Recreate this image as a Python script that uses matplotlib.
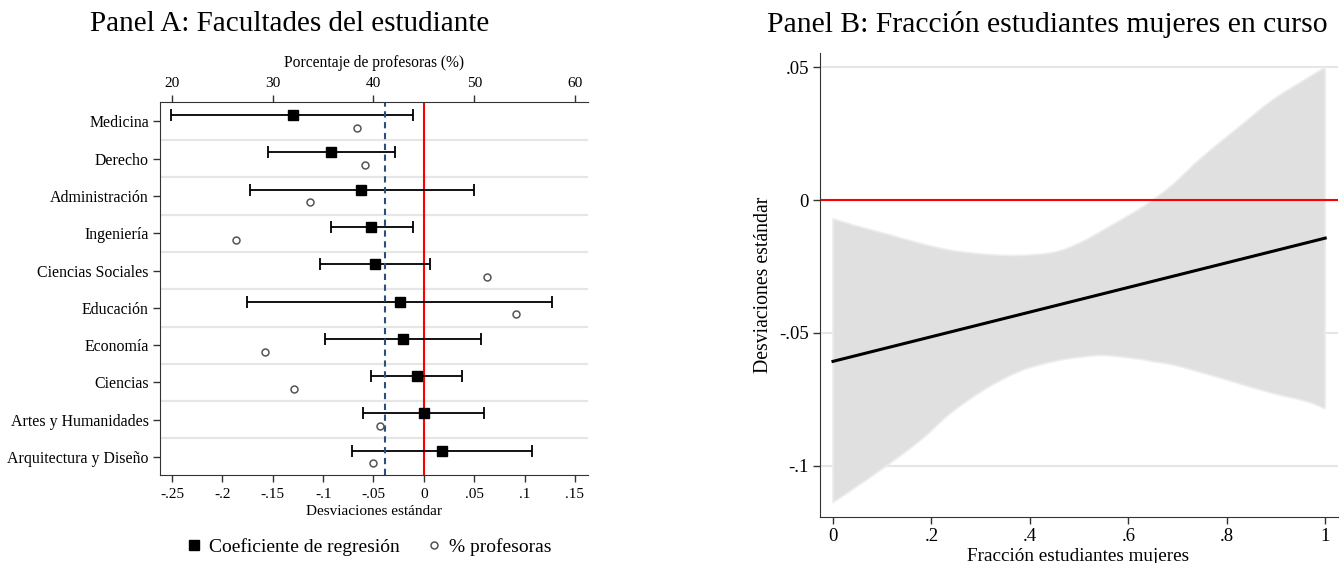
import matplotlib
matplotlib.use("Agg")
import matplotlib.pyplot as plt
from matplotlib.lines import Line2D
from matplotlib.path import Path
from matplotlib.patches import PathPatch
import numpy as np

plt.rcParams['font.family'] = ['Liberation Serif', 'DejaVu Serif']

# ---------------- Panel A data ----------------
categories = ["Medicina", "Derecho", "Administración", "Ingeniería",
              "Ciencias Sociales", "Educación", "Economía", "Ciencias",
              "Artes y Humanidades", "Arquitectura y Diseño"]
coef = [-0.130, -0.092, -0.062, -0.052, -0.049, -0.024, -0.021, -0.007, 0.000, 0.018]
ci_low = [-0.251, -0.155, -0.173, -0.092, -0.103, -0.176, -0.098, -0.052, -0.060, -0.071]
ci_high = [-0.011, -0.029, 0.050, -0.011, 0.006, 0.127, 0.057, 0.038, 0.060, 0.107]
pct_prof = [38.4, 39.2, 33.7, 26.3, 51.3, 54.2, 29.2, 32.1, 40.6, 40.0]
pct_prof_ref = 41.1

a_xticks = [-0.25, -0.2, -0.15, -0.1, -0.05, 0, 0.05, 0.1, 0.15]
a_xticklabels = ["-.25", "-.2", "-.15", "-.1", "-.05", "0", ".05", ".1", ".15"]
a_topticks = [20, 30, 40, 50, 60]

# ---------------- Panel B data ----------------
b_x = [0.0, 0.04, 0.11, 0.18, 0.24, 0.31, 0.38, 0.45, 0.50, 0.55, 0.62, 0.65,
       0.69, 0.75, 0.82, 0.89, 0.96, 1.0]
b_upper = [-0.0070, -0.0093, -0.0128, -0.0164, -0.0189, -0.0204, -0.0208, -0.0196,
           -0.0162, -0.0112, -0.0036, 0.0001, 0.0058, 0.0162, 0.0268, 0.0373,
           0.0455, 0.0500]
b_lower = [-0.1139, -0.1089, -0.0999, -0.0901, -0.0801, -0.0711, -0.0644, -0.0607,
           -0.0592, -0.0585, -0.0598, -0.0608, -0.0620, -0.0650, -0.0688, -0.0726,
           -0.0757, -0.0785]
b_line_x = [0.0, 1.0]
b_line_y = [-0.0607, -0.0143]
b_yticks = [0.05, 0, -0.05, -0.1]
b_yticklabels = [".05", "0", "-.05", "-.1"]
b_xticks = [0, 0.2, 0.4, 0.6, 0.8, 1.0]
b_xticklabels = ["0", ".2", ".4", ".6", ".8", "1"]

W, H = 1342, 563
fig = plt.figure(figsize=(W / 100, H / 100), dpi=100)


def px_rect(l, t, r, b):
    return [l / W, 1 - b / H, (r - l) / W, (b - t) / H]


def smooth_path_segments(xs, ys):
    """Catmull-Rom through the points, expressed as cubic Bezier path pieces."""
    P = np.column_stack([xs, ys])
    verts, codes = [], []
    m = len(P)
    for k in range(m - 1):
        p0 = P[k - 1] if k > 0 else P[k]
        p1, p2 = P[k], P[k + 1]
        p3 = P[k + 2] if k + 2 < m else P[k + 1]
        c1 = p1 + (p2 - p0) / 6.0
        c2 = p2 - (p3 - p1) / 6.0
        verts += [tuple(c1), tuple(c2), tuple(p2)]
        codes += [Path.CURVE4] * 3
    return verts, codes


SPINE = '#333333'
GRID = '#e6e6e6'

# ================= Panel A =================
axA = fig.add_axes(px_rect(160, 102, 588, 475))
n = len(categories)
ypos = np.arange(n)
xl = (-0.262, 0.163)
axA.set_xlim(*xl)
axA.set_ylim(n - 0.52, -0.52)

for i in range(n - 1):
    axA.axhline(i + 0.5, color=GRID, lw=1.6, zorder=0)

c = np.array(coef)
err = [c - np.array(ci_low), np.array(ci_high) - c]
axA.errorbar(c, ypos - 0.17, xerr=err, fmt='s', color='black', ms=7,
             capsize=4.5, elinewidth=1.3, capthick=1.3, zorder=3)
axA.axvline(0, color='red', lw=1.5, zorder=2)

axA.set_yticks(ypos)
axA.set_yticklabels(categories)
axA.set_xticks(a_xticks)
axA.set_xticklabels(a_xticklabels)
axA.tick_params(direction='out', length=5, width=1, color=SPINE, labelsize=11, pad=4.5)
axA.tick_params(axis='y', labelsize=11.4, pad=3)
axA.set_xlabel('Desviaciones estándar', fontsize=11, labelpad=2.5)
for s in ['top', 'right']:
    axA.spines[s].set_visible(False)
for s in ['left', 'bottom']:
    axA.spines[s].set_color(SPINE)

ax2 = axA.twiny()
ax2.set_xlim(100 * xl[0] + 45, 100 * xl[1] + 45)
ax2.set_ylim(n - 0.52, -0.52)
ax2.plot(pct_prof, ypos + 0.17, 'o', mfc='white', mec='#555555', ms=5, mew=1.1, ls='none', zorder=3)
ax2.axvline(pct_prof_ref, color='#2b4f7c', lw=1.5, ls=(0, (3, 2.2)), zorder=2)
ax2.set_xticks(a_topticks)
ax2.tick_params(direction='out', length=5, width=1, color=SPINE, labelsize=11, pad=3.5)
ax2.set_xlabel('Porcentaje de profesoras (%)', fontsize=11.2, labelpad=7)
for s in ['left', 'right', 'bottom']:
    ax2.spines[s].set_visible(False)
ax2.spines['top'].set_color(SPINE)

fig.text(289.5 / W, 1 - 31 / H, 'Panel A: Facultades del estudiante',
         ha='center', va='baseline', fontsize=21)

handles = [
    Line2D([], [], marker='s', ls='none', color='black', ms=7, label='Coeficiente de regresión'),
    Line2D([], [], marker='o', ls='none', mfc='white', mec='#555555', ms=5, mew=1.1, label='% profesoras'),
]
fig.legend(handles=handles, loc='center', bbox_to_anchor=(368 / W, 1 - 547 / H), ncol=2,
           frameon=False, fontsize=14, handletextpad=0.25, columnspacing=1.3, handlelength=1)

# ================= Panel B =================
axB = fig.add_axes(px_rect(820, 53, 1338, 517))
axB.set_xlim(-0.0264, 1.026)
axB.set_ylim(-0.1193, 0.0554)
for v in b_yticks:
    if v != 0:
        axB.axhline(v, color=GRID, lw=1.5, zorder=0)

# confidence band: upper edge left->right, lower edge right->left
uv, uc = smooth_path_segments(b_x, b_upper)
lv, lc = smooth_path_segments(b_x[::-1], b_lower[::-1])
verts = [(b_x[0], b_upper[0])] + uv + [(b_x[-1], b_lower[-1])] + lv + [(b_x[0], b_upper[0])]
codes = [Path.MOVETO] + uc + [Path.LINETO] + lc + [Path.CLOSEPOLY]
band = PathPatch(Path(verts, codes), facecolor='#e0e0e0', edgecolor='#ededed', lw=1.2, zorder=1)
axB.add_patch(band)

axB.axhline(0, color='red', lw=1.5, zorder=2)
axB.plot(b_line_x, b_line_y, color='black', lw=2.2, zorder=3)

axB.set_yticks(b_yticks)
axB.set_yticklabels(b_yticklabels)
axB.set_xticks(b_xticks)
axB.set_xticklabels(b_xticklabels)
axB.tick_params(direction='out', length=5, width=1, color=SPINE, labelsize=13.5, pad=3)
for s in ['top', 'right']:
    axB.spines[s].set_visible(False)
for s in ['left', 'bottom']:
    axB.spines[s].set_color(SPINE)

fig.text(763 / W, 1 - 285 / H, 'Desviaciones estándar', rotation=90,
         ha='center', va='center', fontsize=14.2)
fig.text(1078 / W, 1 - 561 / H, 'Fracción estudiantes mujeres',
         ha='center', va='baseline', fontsize=13.8)
fig.text(1047 / W, 1 - 32 / H, 'Panel B: Fracción estudiantes mujeres en curso',
         ha='center', va='baseline', fontsize=21.3)

fig.savefig('out.png', dpi=100)
